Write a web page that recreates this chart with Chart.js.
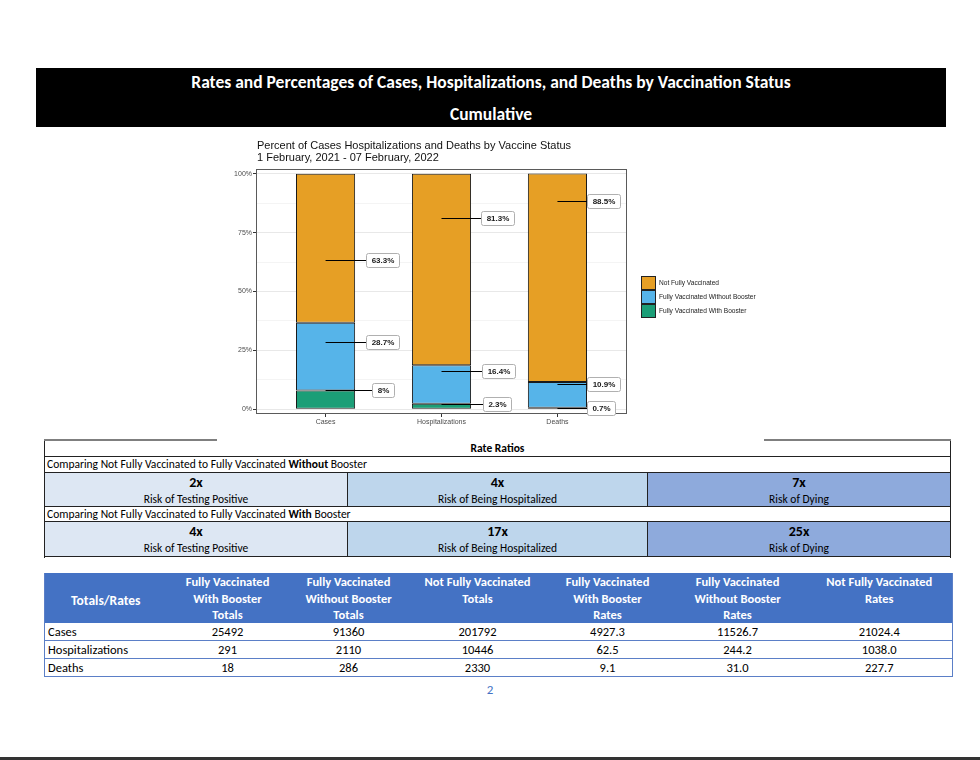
<!DOCTYPE html>
<html>
<head>
<meta charset="utf-8">
<script src="https://cdn.jsdelivr.net/npm/chart.js@4.4.0/dist/chart.umd.min.js"></script>
<style>
body { margin: 0; width: 980px; height: 760px; background: #fff; position: relative; overflow: hidden;
  font-family: "Liberation Sans Narrow", Carlito, Lato, sans-serif; color: #000; }
.abs { position: absolute; }
#banner { left: 36px; top: 68px; width: 910px; height: 59px; background: #000; color: #fff; font-weight: bold; font-size: 17.5px; text-align: center; }
#banner div { position: absolute; left: 0; width: 100%; line-height: 20px; }
#chartBox { left: 220px; top: 135px; width: 570px; height: 295px; }
.topline { top: 439px; height: 2px; background: #7f7f7f; }
#ratios { left: 44px; top: 441px; width: 907px; height: 117px; border-left: 1px solid #222; border-right: 1px solid #222; box-sizing: border-box; }
.rrow { position: absolute; left: 0; width: 100%; border-bottom: 1px solid #222; box-sizing: border-box; font-size: 11.5px; }
.rcell { position: absolute; top: 0; height: 100%; text-align: center; box-sizing: border-box; }
.rcell b { display: block; font-size: 14px; line-height: 16px; padding-top: 2px; }
.rcell span { display: block; line-height: 16px; }
#totals { left: 44px; top: 573px; border-collapse: collapse; table-layout: fixed; width: 908px; font-size: 12.5px;
  border-left: 1px solid #5b7fc7; border-right: 1px solid #5b7fc7; }
#totals th { background: #4472c4; color: #fff; font-weight: bold; padding: 0; vertical-align: top; }
#totals th div { height: 50px; overflow: hidden; line-height: 16.5px; padding-top: 1px; box-sizing: border-box; }
#totals th.first div { font-size: 13.5px; padding-top: 20px; }
#totals td { height: 17px; padding: 0; text-align: center; border-bottom: 1px solid #5b7fc7; line-height: 17px; }
#totals td.first { text-align: left; padding-left: 3px; }
#pageNo { left: 480px; top: 682px; width: 20px; text-align: center; color: #4472c4; font-size: 13px; }
#bottomLine { left: 0; top: 757px; width: 980px; height: 3px; background: #333; }
</style>
</head>
<body>
<div id="banner" class="abs">
  <div style="top:4px">Rates and Percentages of Cases, Hospitalizations, and Deaths by Vaccination Status</div>
  <div style="top:36px">Cumulative</div>
</div>
<div id="chartBox" class="abs"><canvas id="chart-vax" width="570" height="295"></canvas></div>
<div class="abs topline" style="left:44px;width:173px"></div>
<div class="abs topline" style="left:764px;width:187px"></div>
<div id="ratios" class="abs"></div>
<table id="totals" class="abs"></table>
<div id="pageNo" class="abs">2</div>
<div id="bottomLine" class="abs"></div>
<script>
'use strict';
// chart data, percent of each outcome by vaccine status
var categories = ['Cases', 'Hospitalizations', 'Deaths'];
var withBooster = [8, 2.3, 0.7];
var withoutBooster = [28.7, 16.4, 10.9];
var notFully = [63.3, 81.3, 88.5];
var seriesNames = ['Fully Vaccinated With Booster', 'Fully Vaccinated Without Booster', 'Not Fully Vaccinated'];
var seriesColors = ['#1b9e77', '#56b4e9', '#e69f25'];
var yTicks = [0, 12.5, 25, 37.5, 50, 62.5, 75, 87.5, 100]; //minor ones get no label
var chartTitle = ['Percent of Cases Hospitalizations and Deaths by Vaccine Status', '1 February, 2021 - 07 February, 2022'];

// rate ratio table
var ratioLabels = ['Risk of Testing Positive', 'Risk of Being Hospitalized', 'Risk of Dying'];
var ratioWithout = ['2x', '4x', '7x'];
var ratioWith = ['4x', '17x', '25x'];

// totals / rates table
var rowNames = ['Cases', 'Hospitalizations', 'Deaths'];
var colHeads = [['Fully Vaccinated', 'With Booster', 'Totals'], ['Fully Vaccinated', 'Without Booster', 'Totals'],
  ['Not Fully Vaccinated', 'Totals'], ['Fully Vaccinated', 'With Booster', 'Rates'],
  ['Fully Vaccinated', 'Without Booster', 'Rates'], ['Not Fully Vaccinated', 'Rates']];
var withBoosterTotals = ['25492', '291', '18'];
var withoutBoosterTotals = ['91360', '2110', '286'];
var notFullyTotals = ['201792', '10446', '2330'];
var withBoosterRates = ['4927.3', '62.5', '9.1'];
var withoutBoosterRates = ['11526.7', '244.2', '31.0'];
var notFullyRates = ['21024.4', '1038.0', '227.7'];

// px from bar centre to label box, [dataset][category]
var labelGap = [[46, 41, 30], [40, 40, 30], [40, 39, 30]];
var rFont = '"Liberation Sans", Arial, sans-serif';

function buildRatios() {
  var el = document.getElementById('ratios');
  var shades = ['#dde7f3', '#bed6ec', '#8eaadc'];
  var widths = [302, 300, 303];
  function cells(vals) {
    var html = '', left = 0;
    for (var i = 0; i < 3; i++) {
      html += '<div class="rcell" style="left:' + left + 'px;width:' + widths[i] + 'px;background:' + shades[i] +
        (i ? ';border-left:1px solid #222' : '') + '"><b>' + vals[i] + '</b><span>' + ratioLabels[i] + '</span></div>';
      left += widths[i];
    }
    return html;
  }
  el.innerHTML =
    '<div class="rrow" style="top:0;height:16px;text-align:center;font-weight:bold;line-height:15px">Rate Ratios</div>' +
    '<div class="rrow" style="top:16px;height:16px;line-height:15px;padding-left:2px">Comparing Not Fully Vaccinated to Fully Vaccinated <b>Without</b> Booster</div>' +
    '<div class="rrow" style="top:32px;height:34px">' + cells(ratioWithout) + '</div>' +
    '<div class="rrow" style="top:66px;height:15px;line-height:14px;padding-left:2px">Comparing Not Fully Vaccinated to Fully Vaccinated <b>With</b> Booster</div>' +
    '<div class="rrow" style="top:81px;height:35px">' + cells(ratioWith) + '</div>';
}

function buildTotals() {
  var t = document.getElementById('totals');
  var widths = [122, 122, 120, 138, 122, 138, 146];
  var cols = [withBoosterTotals, withoutBoosterTotals, notFullyTotals, withBoosterRates, withoutBoosterRates, notFullyRates];
  var html = '<colgroup>' + widths.map(function(w) { return '<col style="width:' + w + 'px">'; }).join('') + '</colgroup>';
  html += '<tr><th class="first"><div>Totals/Rates</div></th>' + colHeads.map(function(h) { return '<th><div>' + h.join('<br>') + '</div></th>'; }).join('') + '</tr>';
  for (var r = 0; r < rowNames.length; r++) {
    html += '<tr><td class="first">' + rowNames[r] + '</td>';
    for (var c = 0; c < cols.length; c++) html += '<td>' + cols[c][r] + '</td>';
    html += '</tr>';
  }
  t.innerHTML = html;
}

// ggplot-ish labels: line from bar centre out to a white box
var pctLabels = {
  id: 'pctLabels',
  afterDatasetsDraw: function(chart) {
    var ctx = chart.ctx, xs = chart.scales.x, ys = chart.scales.y, a = chart.chartArea;
    ctx.save();
    ctx.strokeStyle = '#5a5a5a';
    ctx.lineWidth = 1;
    ctx.strokeRect(a.left + 0.5, a.top + 0.5, a.right - a.left - 1, a.bottom - a.top - 1);
    ctx.font = 'bold 8px ' + rFont;
    ctx.textAlign = 'center';
    ctx.textBaseline = 'middle';
    chart.data.datasets.forEach(function(ds, k) {
      ds.data.forEach(function(pt, i) {
        var x0 = xs.getPixelForValue(pt.x);
        var y = Math.round(ys.getPixelForValue(pt.y)) + 0.5;
        var bx = Math.round(x0 + labelGap[k][i]) + 0.5;
        var txt = pt.y + '%';
        var w = Math.round(ctx.measureText(txt).width) + 10;
        ctx.beginPath();
        ctx.moveTo(x0, y);
        ctx.lineTo(bx, y);
        ctx.strokeStyle = '#000';
        ctx.stroke();
        ctx.beginPath();
        ctx.roundRect(bx, y - 7, w, 14, 2);
        ctx.fillStyle = '#fff';
        ctx.fill();
        ctx.strokeStyle = '#b0b0b0';
        ctx.stroke();
        ctx.fillStyle = '#1a1a1a';
        ctx.fillText(txt, bx + w / 2, y + 0.5);
      });
    });
    ctx.restore();
  },
  afterDraw: function(chart) {
    var ctx = chart.ctx, a = chart.chartArea;
    ctx.save();
    // title
    ctx.font = '11px ' + rFont;
    ctx.fillStyle = '#111';
    ctx.textBaseline = 'middle';
    ctx.fillText(chartTitle[0], a.left + 1, 11);
    ctx.fillText(chartTitle[1], a.left + 1, 23);
    // legend, top series first
    ctx.font = '6.6px ' + rFont;
    var ds = chart.data.datasets.slice().reverse();
    ds.forEach(function(d, k) {
      var top = 141 + k * 14;
      ctx.fillStyle = d.backgroundColor;
      ctx.fillRect(a.right + 14.5, top + 0.5, 14, 13);
      ctx.strokeStyle = '#222';
      ctx.strokeRect(a.right + 14.5, top + 0.5, 14, 13);
      ctx.fillStyle = '#222';
      ctx.fillText(d.label, a.right + 32, top + 7);
    });
    ctx.restore();
  }
};

function drawChart() {
  var ctx = document.getElementById('chart-vax').getContext('2d');
  var series = [withBooster, withoutBooster, notFully];
  var tickFont = {family: rFont, size: 7};
  new Chart(ctx, {
    type: 'bar',
    data: {
      datasets: series.map(function(vals, k) {
        return {
          label: seriesNames[k],
          data: vals.map(function(v, i) { return {x: i + 1, y: v}; }),
          backgroundColor: seriesColors[k],
          borderColor: '#1a1a1a',
          borderWidth: 1,
          borderSkipped: false,
          categoryPercentage: 1,
          barPercentage: 0.51
        };
      })
    },
    options: {
      responsive: false,
      animation: false,
      layout: {padding: {top: 34, right: 163, bottom: 0, left: 0}},
      plugins: {legend: {display: false}, tooltip: {enabled: false}},
      scales: {
        x: {
          type: 'linear', stacked: true, min: 0.4, max: 3.6, offset: false, grace: 0,
          afterBuildTicks: function(s) { s.ticks = categories.map(function(c, i) { return {value: i + 1}; }); },
          afterFit: function(s) { s.height = 16; },
          ticks: {callback: function(v) { return categories[v - 1]; }, font: tickFont, color: '#4d4d4d', padding: 1, maxRotation: 0, autoSkip: false},
          grid: {drawOnChartArea: false, offset: false, tickLength: 3, tickColor: '#333'},
          border: {display: false}
        },
        y: {
          stacked: true, min: -2, max: 102,
          afterBuildTicks: function(s) { s.ticks = yTicks.map(function(v) { return {value: v}; }); },
          afterFit: function(s) { s.width = 36; },
          ticks: {callback: function(v) { return v % 25 === 0 ? v + '%' : ''; }, font: tickFont, color: '#4d4d4d', padding: 1, autoSkip: false},
          grid: {
            tickLength: 3,
            color: function(c) { return c.tick && c.tick.value % 25 === 0 ? '#e8e8e8' : '#f4f4f4'; },
            tickColor: function(c) { return c.tick && c.tick.value % 25 === 0 ? '#333' : 'rgba(0,0,0,0)'; }
          },
          border: {display: false}
        }
      }
    },
    plugins: [pctLabels]
  });
}

buildRatios();
buildTotals();
drawChart();
</script>
</body>
</html>
